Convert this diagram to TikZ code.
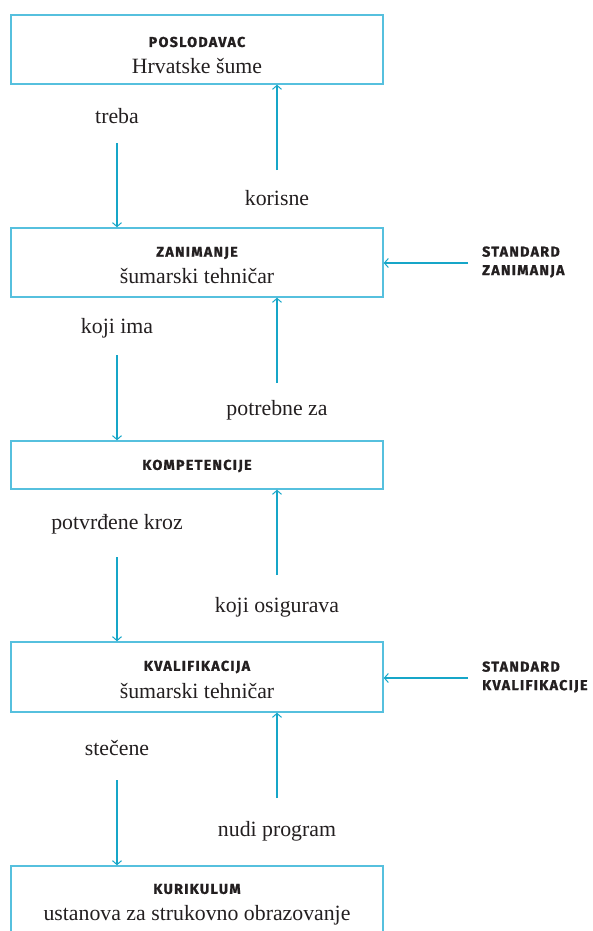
\documentclass[tikz,border=0pt]{standalone}
\usepackage{fontspec}
\setmainfont{Liberation Serif}
\newfontfamily\capsfont[LetterSpace=9,FakeBold=1.2]{Fira Sans Bold}
\usetikzlibrary{arrows.meta}
\definecolor{arrcol}{RGB}{22,166,200}
\definecolor{boxcol}{RGB}{86,192,222}
\definecolor{txt}{RGB}{35,31,32}
\tikzset{
  box/.style={draw=boxcol, line width=1.4pt, minimum width=372pt, inner sep=0pt, text=txt},
  ttl/.style={font=\capsfont\fontsize{14.3}{16}\selectfont, text=txt},
  sidettl/.style={font=\capsfont\fontsize{14.3}{18.5}\selectfont, text=txt, anchor=west, align=left, inner sep=0pt},
  lbl/.style={font=\fontsize{21.8}{24}\selectfont, text=txt, inner sep=0pt},
  sub/.style={font=\fontsize{21.8}{24}\selectfont, text=txt, inner sep=0pt},
  arr/.style={draw=arrcol, line width=1.5pt, -{Straight Barb[length=4pt,width=9pt,line width=1pt]}},
}
\begin{document}
\begin{tikzpicture}[x=1pt,y=-1pt]
\useasboundingbox (0,0) rectangle (592,931);
\clip (0,0) rectangle (592,931);
% boxes
\node[box, minimum height=69pt] (b1) at (197,49.5) {};
\node[box, minimum height=69pt] (b2) at (197,262.5) {};
\node[box, minimum height=48pt] (b3) at (197,465) {};
\node[box, minimum height=70pt] (b4) at (197,677) {};
\node[box, minimum height=80pt] (b5) at (197,906) {};
% box texts
\node[ttl] (t1) at (197,42) {POSLODAVAC};
\node[sub] (s1) at (197,66) {Hrvatske šume};
\node[ttl] (t2) at (197,253) {ZANIMANJE};
\node[sub] (s2) at (197,276) {šumarski tehničar};
\node[ttl] (t3) at (197,466) {KOMPETENCIJE};
\node[ttl] (t4) at (197,667) {KVALIFIKACIJA};
\node[sub] (s4) at (197,691) {šumarski tehničar};
\node[ttl] (t5) at (197,889) {KURIKULUM};
\node[sub] (s5) at (197,915) {ustanova za strukovno obrazovanje};
% side standards
\node[sidettl] (sz) at (482,262) {STANDARD\\ZANIMANJA};
\node[sidettl] (sk) at (482,677) {STANDARD\\KVALIFIKACIJE};
\coordinate (cz) at (468,263);
\coordinate (ck) at (468,678);
\draw[arr] (cz) -- (cz -| b2.east);
\draw[arr] (ck) -- (ck -| b4.east);
% labels
\node[lbl] (l1) at (117,116) {treba};
\node[lbl] (r1) at (277,198) {korisne};
\node[lbl] (l2) at (117,328) {koji ima};
\node[lbl] (r2) at (277,410) {potrebne za};
\node[lbl] (l3) at (117,524) {potvrđene kroz};
\node[lbl] (r3) at (277,607) {koji osigurava};
\node[lbl] (l4) at (117,748) {stečene};
\node[lbl] (r4) at (277,831) {nudi program};
% down arrows
\draw[arr] ([yshift=-27pt]l1.center) -- (l1 |- b2.north);
\draw[arr] ([yshift=-27pt]l2.center) -- (l2 |- b3.north);
\draw[arr] ([yshift=-33pt]l3.center) -- (l3 |- b4.north);
\draw[arr] ([yshift=-32pt]l4.center) -- (l4 |- b5.north);
% up arrows
\draw[arr] ([yshift=28pt]r1.center) -- (r1 |- b1.south);
\draw[arr] ([yshift=27pt]r2.center) -- (r2 |- b2.south);
\draw[arr] ([yshift=32pt]r3.center) -- (r3 |- b3.south);
\draw[arr] ([yshift=33pt]r4.center) -- (r4 |- b4.south);
\end{tikzpicture}
\end{document}
